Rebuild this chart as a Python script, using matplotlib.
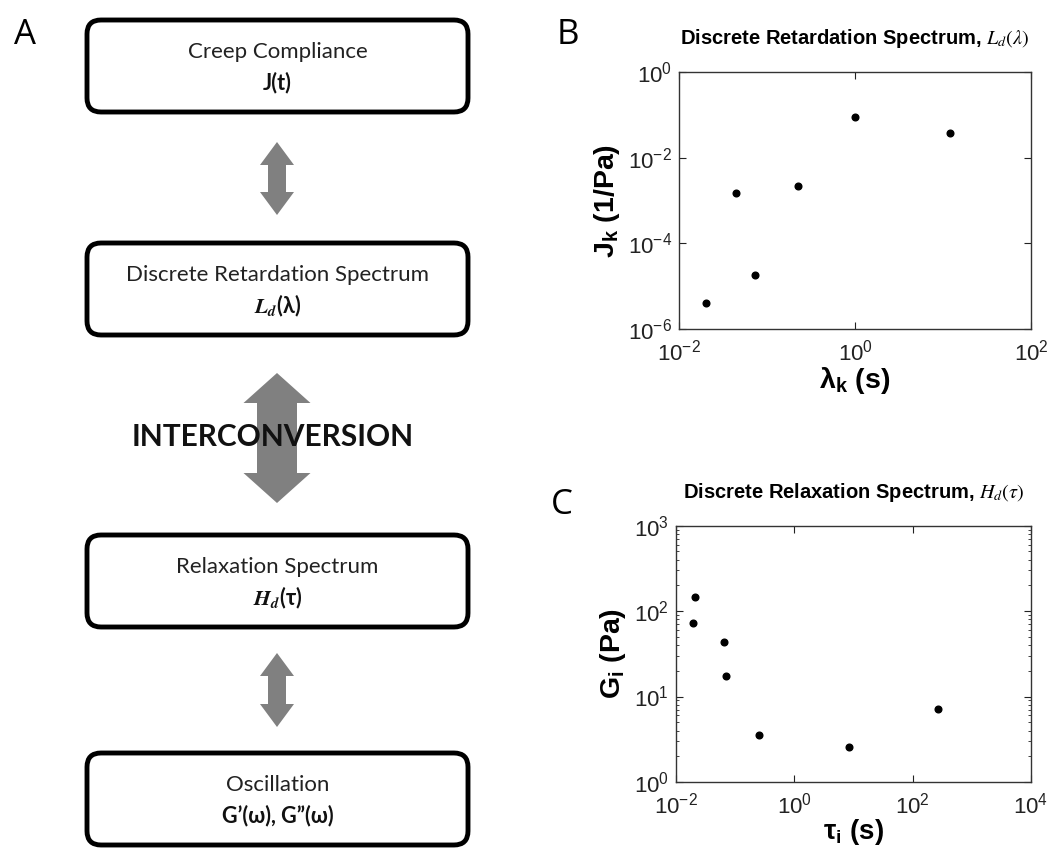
import matplotlib
matplotlib.use('Agg')
import matplotlib.pyplot as plt
from matplotlib.patches import FancyBboxPatch, Polygon
from matplotlib.ticker import LogLocator, NullLocator

plt.rcParams['mathtext.fontset'] = 'stix'
plt.rcParams['font.family'] = ['Liberation Sans', 'DejaVu Sans']

# discrete retardation spectrum (panel B)
lam_k = [0.0205, 0.0449, 0.0731, 0.226, 1.0, 12.0]
J_k = [4.0e-6, 1.5e-3, 1.82e-5, 2.22e-3, 0.0874, 0.0377]

# discrete relaxation spectrum (panel C)
tau_i = [0.0191, 0.0209, 0.0647, 0.0710, 0.249, 8.51, 272]
G_i = [72.8, 145, 43.0, 17.2, 3.58, 2.59, 7.14]

# flowchart boxes (panel A): top line, bottom line
box_titles = ['Creep Compliance', 'Discrete Retardation Spectrum',
              'Relaxation Spectrum', 'Oscillation']
box_formulas = ['J(t)', r'$\mathbfit{L}_{\mathbfit{d}}$(λ)',
                r'$\mathbfit{H}_{\mathbfit{d}}$(τ)', 'G’(ω), G”(ω)']

fig = plt.figure(figsize=(10.5, 8.51), dpi=100)

# ---- panel A: schematic drawn in pixel coordinates ----
ax0 = fig.add_axes([0, 0, 1, 1])
ax0.set_xlim(0, 1050)
ax0.set_ylim(851, 0)
ax0.axis('off')

box_top = [20, 243, 535, 753]
box_h = 92
box_x0, box_x1 = 87, 468
box_font = ['Lato', 'DejaVu Sans']
for top, t1, t2 in zip(box_top, box_titles, box_formulas):
    ax0.add_patch(FancyBboxPatch((box_x0, top), box_x1 - box_x0, box_h,
                                 boxstyle='round,pad=0,rounding_size=14',
                                 lw=3.5, ec='black', fc='white'))
    xc = (box_x0 + box_x1) / 2
    ax0.text(xc, top + 32, t1, ha='center', va='center', fontsize=16,
             family=box_font, color='#222222')
    ax0.text(xc, top + 63, t2, ha='center', va='center', fontsize=15.5,
             family=box_font, fontweight='bold', color='#111111')


def double_arrow(ax, xc, y0, y1, shaft_w, head_w, head_len, color='#808080'):
    s, h = shaft_w / 2, head_w / 2
    pts = [(xc, y0), (xc + h, y0 + head_len), (xc + s, y0 + head_len),
           (xc + s, y1 - head_len), (xc + h, y1 - head_len), (xc, y1),
           (xc - h, y1 - head_len), (xc - s, y1 - head_len),
           (xc - s, y0 + head_len), (xc - h, y0 + head_len)]
    ax.add_patch(Polygon(pts, closed=True, fc=color, ec='none'))


double_arrow(ax0, 277, 142, 215, 18, 34, 23)
double_arrow(ax0, 277, 373, 503, 40, 67, 30)
double_arrow(ax0, 277, 653, 727, 18, 34, 23)

ax0.text(273, 437, 'INTERCONVERSION', ha='center', va='center', fontsize=21.5,
         family=box_font, fontweight='bold', color='#111111')

for lbl, x, y in [('A', 25, 35), ('B', 568, 35), ('C', 562, 505)]:
    ax0.text(x, y, lbl, ha='center', va='center', fontsize=25,
             family=['Open Sans', 'DejaVu Sans'], color='black')


# ---- panels B and C ----
def style_axes(ax):
    ax.tick_params(which='both', direction='in', top=True, right=True,
                   labelsize=16, colors='#222222')
    ax.tick_params(which='major', length=5)
    ax.tick_params(which='minor', length=2.5)
    ax.tick_params(axis='x', pad=7.5)
    ax.tick_params(axis='y', pad=5)
    for sp in ax.spines.values():
        sp.set_color('#333333')
        sp.set_linewidth(1.0)


axB = fig.add_axes([0.6467, 0.6134, 0.3352, 0.302])
axB.plot(lam_k, J_k, 'o', color='black', markersize=4.8)
axB.set_xscale('log')
axB.set_yscale('log')
axB.set_xlim(1e-2, 1e2)
axB.set_ylim(1e-6, 1e0)
axB.xaxis.set_major_locator(LogLocator(base=100))
axB.yaxis.set_major_locator(LogLocator(base=100))
axB.xaxis.set_minor_locator(NullLocator())
axB.yaxis.set_minor_locator(NullLocator())
style_axes(axB)
axB.set_title(r'Discrete Retardation Spectrum, $L_d(\lambda)$', fontsize=14.5,
              fontweight='bold', pad=20)
axB.set_xlabel(r'$\mathregular{λ_k}$ (s)', fontsize=20.5, fontweight='bold',
               labelpad=0)
axB.set_ylabel(r'$\mathregular{J_k}$ (1/Pa)', fontsize=20.5, fontweight='bold',
               labelpad=4)

axC = fig.add_axes([0.6438, 0.0811, 0.338, 0.3012])
axC.plot(tau_i, G_i, 'o', color='black', markersize=4.8)
axC.set_xscale('log')
axC.set_yscale('log')
axC.set_xlim(1e-2, 1e4)
axC.set_ylim(1e0, 1e3)
axC.xaxis.set_major_locator(LogLocator(base=100))
axC.yaxis.set_major_locator(LogLocator(base=10))
style_axes(axC)
axC.set_title(r'Discrete Relaxation Spectrum, $H_d(\tau)$', fontsize=14.5,
              fontweight='bold', pad=20)
axC.set_xlabel(r'$\mathregular{τ_i}$ (s)', fontsize=20, fontweight='bold',
               labelpad=-1)
axC.set_ylabel(r'$\mathregular{G_i}$ (Pa)', fontsize=20.5, fontweight='bold',
               labelpad=4)

fig.savefig('out.png', dpi=100)
